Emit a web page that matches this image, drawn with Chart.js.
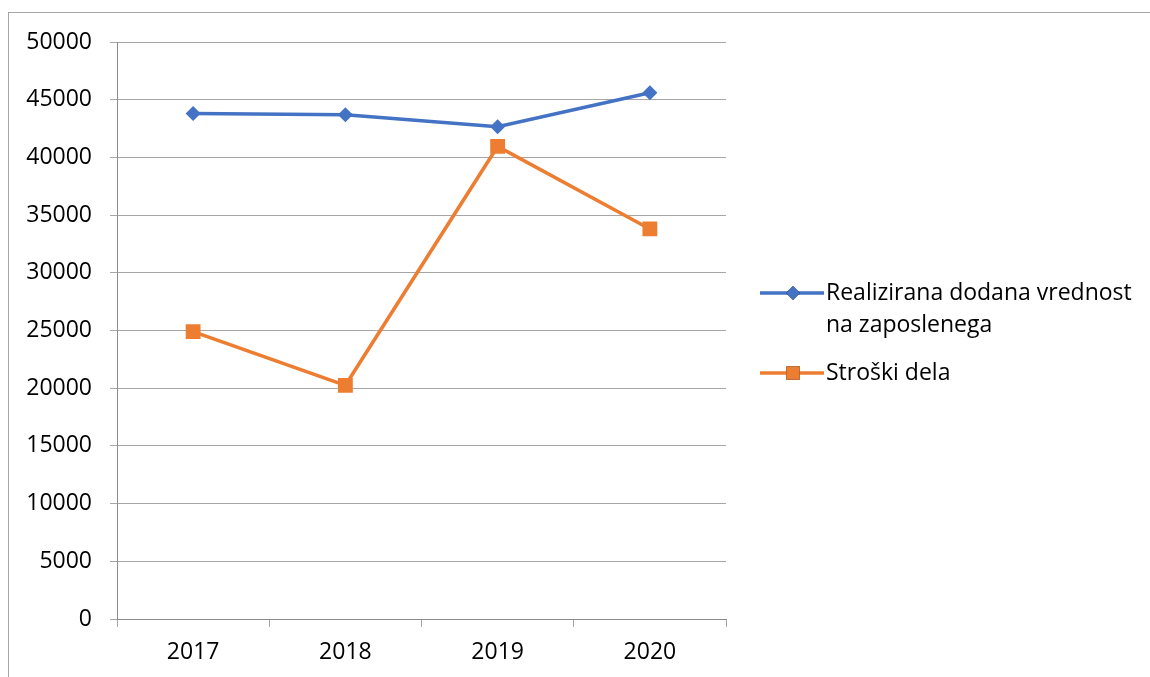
<!DOCTYPE html>
<html>
<head>
<meta charset="utf-8">
<script src="https://cdn.jsdelivr.net/npm/chart.js@4.4.1/dist/chart.umd.min.js"></script>
<style>
  html, body { margin: 0; padding: 0; background: #fff; }
  #wrap { width: 1150px; height: 677px; position: relative; }
</style>
</head>
<body>
<div id="wrap"><canvas id="grafikon"></canvas></div>
<script>
// Podatki
const leta = ["2017", "2018", "2019", "2020"];
const dodanaVrednost = [43800, 43700, 42650, 45600];
const stroskiDela = [24900, 20250, 40950, 33800];
const imenaSerij = ["Realizirana dodana vrednost na zaposlenega", "Stroški dela"];

const FONT = "'Open Sans', 'Noto Sans', sans-serif";

// okvir okrog grafa
const okvir = {
  id: 'okvir',
  beforeDraw(chart) {
    const ctx = chart.ctx;
    ctx.save();
    ctx.strokeStyle = '#a6a6a6';
    ctx.lineWidth = 1;
    ctx.strokeRect(8.5, 12.5, 1160, 700);
    ctx.restore();
  }
};

// legenda na desni, z prelomom besedila
const legenda = {
  id: 'legenda',
  afterDraw(chart) {
    const ctx = chart.ctx;
    ctx.save();
    ctx.font = '23px ' + FONT;
    ctx.textBaseline = 'middle';
    ctx.fillStyle = '#000';
    const x0 = 760, x1 = 826, maxW = 320, lh = 32;
    let y = 293;
    chart.data.datasets.forEach(ds => {
      // prelom vrstic
      const words = ds.label.split(' ');
      const lines = [];
      let cur = '';
      words.forEach(w => {
        const t = cur ? cur + ' ' + w : w;
        if (ctx.measureText(t).width > maxW && cur) { lines.push(cur); cur = w; }
        else cur = t;
      });
      lines.push(cur);

      ctx.strokeStyle = ds.borderColor;
      ctx.lineWidth = 3.5;
      ctx.beginPath();
      ctx.moveTo(x0, y);
      ctx.lineTo(x1 - 2, y);
      ctx.stroke();
      Chart.helpers.drawPoint(ctx, {
        pointStyle: ds.pointStyle,
        radius: ds.pointStyle === 'rect' ? 9.5 : 7,
        borderWidth: 0,
        rotation: 0
      }, (x0 + x1) / 2, y);
      ctx.fillStyle = ds.borderColor;
      ctx.fill();

      ctx.fillStyle = '#000';
      lines.forEach((l, i) => ctx.fillText(l, x1, y + i * lh));
      y += (lines.length - 1) * lh + 48;
    });
    ctx.restore();
  }
};

new Chart(document.getElementById("grafikon"), {
  type: 'line',
  data: {
    labels: leta,
    datasets: [{
      label: imenaSerij[0],
      data: dodanaVrednost,
      borderColor: "#4472C4",
      backgroundColor: "#4472C4",
      borderWidth: 3.5,
      pointStyle: 'rectRot',
      pointRadius: 7.5,
      pointHoverRadius: 7.5,
      pointBorderWidth: 0,
      tension: 0
    }, {
      label: imenaSerij[1],
      data: stroskiDela,
      borderColor: "#ED7D31",
      backgroundColor: "#ED7D31",
      borderWidth: 3.5,
      pointStyle: 'rect',
      pointRadius: 10.5,
      pointHoverRadius: 10.5,
      pointBorderWidth: 0,
      tension: 0
    }]
  },
  options: {
    responsive: true,
    maintainAspectRatio: false,
    animation: false,
    layout: { padding: { left: 0, top: 42, right: 1150 - 726, bottom: 0 } },
    plugins: {
      legend: { display: false },
      tooltip: { enabled: false },
      title: { display: false }
    },
    scales: {
      x: {
        offset: true,
        afterFit: s => { s.height = 677 - 619; },
        grid: {
          offset: true,
          drawOnChartArea: false,
          drawTicks: true,
          tickLength: 8,
          color: '#a6a6a6'
        },
        border: { color: '#8c8c8c', width: 1 },
        ticks: { color: '#000', font: { family: FONT, size: 23 }, padding: 12 }
      },
      y: {
        min: 0,
        max: 50000,
        afterFit: s => { s.width = 117; },
        grid: { color: '#a6a6a6', tickLength: 7, drawTicks: true },
        border: { color: '#8c8c8c', width: 1 },
        ticks: {
          stepSize: 5000,
          color: '#000',
          padding: 18,
          font: { family: FONT, size: 23 },
          callback: v => String(v)
        }
      }
    }
  },
  plugins: [okvir, legenda]
});
</script>
</body>
</html>
